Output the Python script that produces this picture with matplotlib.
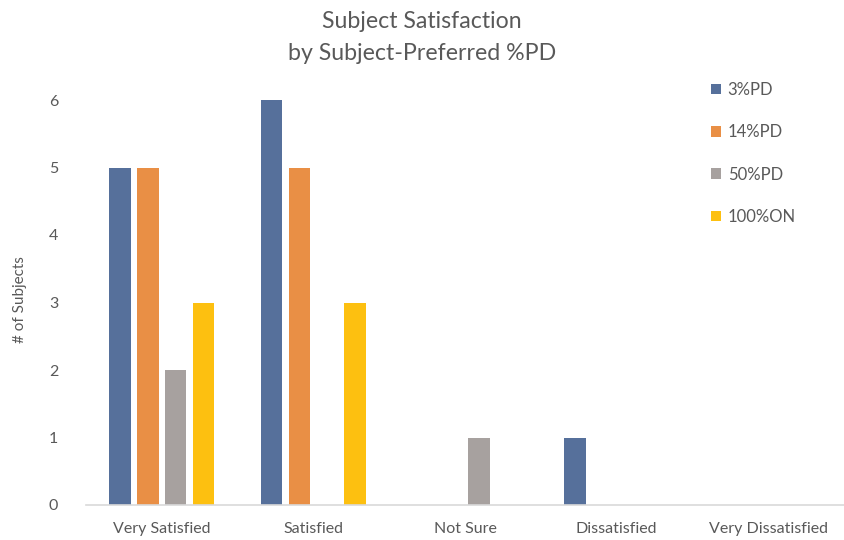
import matplotlib
matplotlib.use('Agg')
import matplotlib.pyplot as plt
import numpy as np

categories = ['Very Satisfied', 'Satisfied', 'Not Sure', 'Dissatisfied', 'Very Dissatisfied']
series_names = ['3%PD', '14%PD', '50%PD', '100%ON']
pd3 = [5, 6, 0, 1, 0]
pd14 = [5, 5, 0, 0, 0]
pd50 = [2, 0, 1, 0, 0]
on100 = [3, 3, 0, 0, 0]
colors = ['#56709b', '#e98f45', '#a7a19f', '#fdc010']

plt.rcParams['font.family'] = ['Lato', 'DejaVu Sans']
text_color = '#595959'

fig = plt.figure(figsize=(8.44, 5.4), dpi=100)
ax = fig.add_axes([86 / 844, 35 / 540, 758 / 844, 405 / 540])

x = np.arange(len(categories))
step = 0.1834
width = 0.14
for i, (vals, name) in enumerate(zip([pd3, pd14, pd50, on100], series_names)):
    ax.bar(x + (i - 1.5) * step, vals, width, color=colors[i], label=name)

ax.set_xlim(-0.5, 4.5)
ax.set_ylim(0, 6)
ax.set_xticks(x)
ax.set_xticklabels(categories, fontsize=11.5, color=text_color)
ax.set_yticks(range(7))
ax.set_yticklabels([str(v) for v in range(7)], fontsize=11.5, color=text_color)
ax.tick_params(length=0)
ax.tick_params(axis='x', pad=12)
ax.tick_params(axis='y', pad=20)
for s in ['top', 'right', 'left']:
    ax.spines[s].set_visible(False)
ax.spines['bottom'].set_color('#d9d9d9')
ax.spines['bottom'].set_linewidth(1.2)

fig.text(20 / 844, 1 - 300 / 540, '# of Subjects', rotation=90, ha='center', va='center',
         fontsize=11, color=text_color)

fig.text(0.5, 1 - 22 / 540, 'Subject Satisfaction', ha='center', va='center',
         fontsize=16.7, color=text_color)
fig.text(0.5, 1 - 53 / 540, 'by Subject-Preferred %PD', ha='center', va='center',
         fontsize=16.7, color=text_color)

leg = ax.legend(loc='upper left', bbox_to_anchor=(696 / 844, 1 - 67 / 540),
                bbox_transform=fig.transFigure, frameon=False, fontsize=12,
                handlelength=0.6, handleheight=0.6, handletextpad=0.4,
                labelspacing=1.58)
for t in leg.get_texts():
    t.set_color(text_color)

fig.savefig('out.png', dpi=100)
